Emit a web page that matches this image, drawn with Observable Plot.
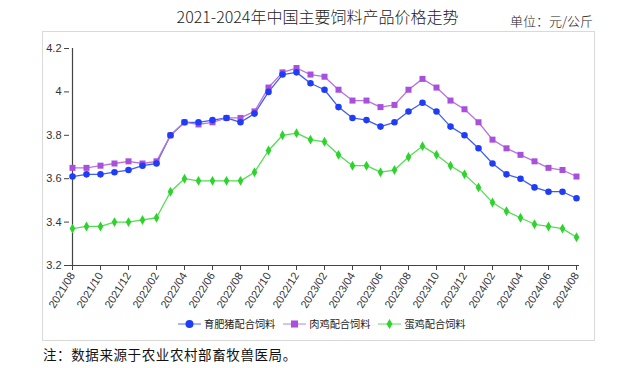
<!DOCTYPE html>
<html><head><meta charset="utf-8">
<script src="https://cdn.jsdelivr.net/npm/d3@7"></script>
<script src="https://cdn.jsdelivr.net/npm/@observablehq/plot@0.6"></script>
<style>
html,body{margin:0;padding:0;background:#fff;}
#page{position:relative;width:633px;height:368px;overflow:hidden;font-family:"Noto Sans CJK SC","Noto Sans",sans-serif;}
#title{position:absolute;left:0;top:4px;width:633px;text-align:center;font-size:16px;color:#222;font-weight:300;}
#title span{position:relative;left:1px;}
#unit{position:absolute;left:510px;top:11px;font-size:13px;color:#222;font-weight:300;}
#box{position:absolute;left:42px;top:31px;width:551px;height:308px;border:1px solid #d9d9d9;}
#box svg{position:absolute;left:0;top:0;}
#legend{position:absolute;left:178px;top:316px;display:flex;align-items:center;font-size:10.2px;color:#222;}
#legend .item{display:flex;align-items:center;margin-right:8px;}
#legend svg{margin-right:3px;}
#note{position:absolute;left:43px;top:344px;font-size:13.5px;color:#111;letter-spacing:0.6px;}
</style>
</head><body>
<div id="page">
  <div id="title"><span>2021-2024年中国主要饲料产品价格走势</span></div>
  <div id="unit">单位：元/公斤</div>
  <div id="box"></div>
  <div id="legend"></div>
  <div id="note">注：数据来源于农业农村部畜牧兽医局。</div>
</div>
<script>
const months = ["2021/08","2021/09","2021/10","2021/11","2021/12","2022/01","2022/02","2022/03","2022/04","2022/05","2022/06","2022/07","2022/08","2022/09","2022/10","2022/11","2022/12","2023/01","2023/02","2023/03","2023/04","2023/05","2023/06","2023/07","2023/08","2023/09","2023/10","2023/11","2023/12","2024/01","2024/02","2024/03","2024/04","2024/05","2024/06","2024/07","2024/08"];
const xTicks = ["2021/08","2021/10","2021/12","2022/02","2022/04","2022/06","2022/08","2022/10","2022/12","2023/02","2023/04","2023/06","2023/08","2023/10","2023/12","2024/02","2024/04","2024/06","2024/08"];
const yTicks = [3.2, 3.4, 3.6, 3.8, 4, 4.2];
const seriesNames = ["育肥猪配合饲料","肉鸡配合饲料","蛋鸡配合饲料"];
const pig = [3.61,3.62,3.62,3.63,3.64,3.66,3.67,3.80,3.86,3.86,3.87,3.88,3.86,3.90,4.00,4.08,4.09,4.04,4.01,3.93,3.88,3.87,3.84,3.86,3.91,3.95,3.91,3.84,3.80,3.74,3.67,3.62,3.60,3.56,3.54,3.54,3.51];
const broiler = [3.65,3.65,3.66,3.67,3.68,3.67,3.68,3.80,3.86,3.85,3.86,3.88,3.88,3.91,4.02,4.09,4.11,4.08,4.07,4.01,3.96,3.96,3.93,3.94,4.01,4.06,4.02,3.96,3.92,3.86,3.78,3.74,3.71,3.68,3.65,3.64,3.61];
const layer = [3.37,3.38,3.38,3.40,3.40,3.41,3.42,3.54,3.60,3.59,3.59,3.59,3.59,3.63,3.73,3.80,3.81,3.78,3.77,3.71,3.66,3.66,3.63,3.64,3.70,3.75,3.71,3.66,3.62,3.56,3.49,3.45,3.42,3.39,3.38,3.37,3.33];
const colors = ["#1f3cf7","#a84fdc","#2ed32e"];
const lineColors = ["#3f5cf9","#b773e2","#55dc55"];
const symbols = ["circle","square","diamond"];

const values = [pig, broiler, layer];
const data = [];
values.forEach((arr, s) => arr.forEach((v, i) => data.push({month: months[i], value: v, series: seriesNames[s]})));

const axisColor = "#444";
const chart = Plot.plot({
  width: 551,
  height: 308,
  marginLeft: 26,
  marginRight: 15,
  marginTop: 16,
  marginBottom: 75,
  style: {background: "transparent", fontFamily: "'Liberation Sans','Noto Sans',sans-serif", fontSize: "11px", color: "#333"},
  x: {type: "point", domain: months, padding: 0, ticks: xTicks, tickRotate: -58, tickSize: 5, tickPadding: 3, label: null},
  y: {domain: [3.2, 4.2], ticks: yTicks, tickFormat: d => String(d), tickSize: 5, tickPadding: 3, label: null},
  color: {domain: seriesNames, range: colors},
  symbol: {domain: seriesNames, range: symbols},
  marks: [
    Plot.ruleY([3.2], {stroke: axisColor, strokeWidth: 1.2}),
    Plot.ruleX([months[0]], {stroke: axisColor, strokeWidth: 1.2}),
    Plot.lineY(data, {x: "month", y: "value", z: "series", stroke: d => lineColors[seriesNames.indexOf(d.series)], strokeWidth: 1.3}),
    Plot.dot(data, {x: "month", y: "value", fill: "series", symbol: "series", r: d => d.series === seriesNames[1] ? 3.2 : d.series === seriesNames[2] ? 2.5 : 3, stroke: "none"})
  ]
});
chart.querySelectorAll('[aria-label="x-axis tick"] path, [aria-label="y-axis tick"] path').forEach(p => p.setAttribute("stroke", axisColor));
document.getElementById("box").appendChild(chart);

const legend = document.getElementById("legend");
seriesNames.forEach((name, s) => {
  const item = document.createElement("div");
  item.className = "item";
  const ns = "http://www.w3.org/2000/svg";
  const sv = document.createElementNS(ns, "svg");
  sv.setAttribute("width", 23); sv.setAttribute("height", 12);
  const ln = document.createElementNS(ns, "line");
  ln.setAttribute("x1", 0); ln.setAttribute("x2", 23); ln.setAttribute("y1", 6); ln.setAttribute("y2", 6);
  ln.setAttribute("stroke", lineColors[s]); ln.setAttribute("stroke-width", 1.3); ln.setAttribute("stroke-opacity", 0.7);
  sv.appendChild(ln);
  const p = document.createElementNS(ns, "path");
  p.setAttribute("d", d3.symbol(s === 0 ? d3.symbolCircle : s === 1 ? d3.symbolSquare : d3.symbolDiamond, s === 2 ? 30 : 50)());
  p.setAttribute("transform", "translate(11.5,6)");
  p.setAttribute("fill", colors[s]);
  sv.appendChild(p);
  item.appendChild(sv);
  const t = document.createElement("span");
  t.textContent = name;
  item.appendChild(t);
  legend.appendChild(item);
});
</script>
</body></html>
